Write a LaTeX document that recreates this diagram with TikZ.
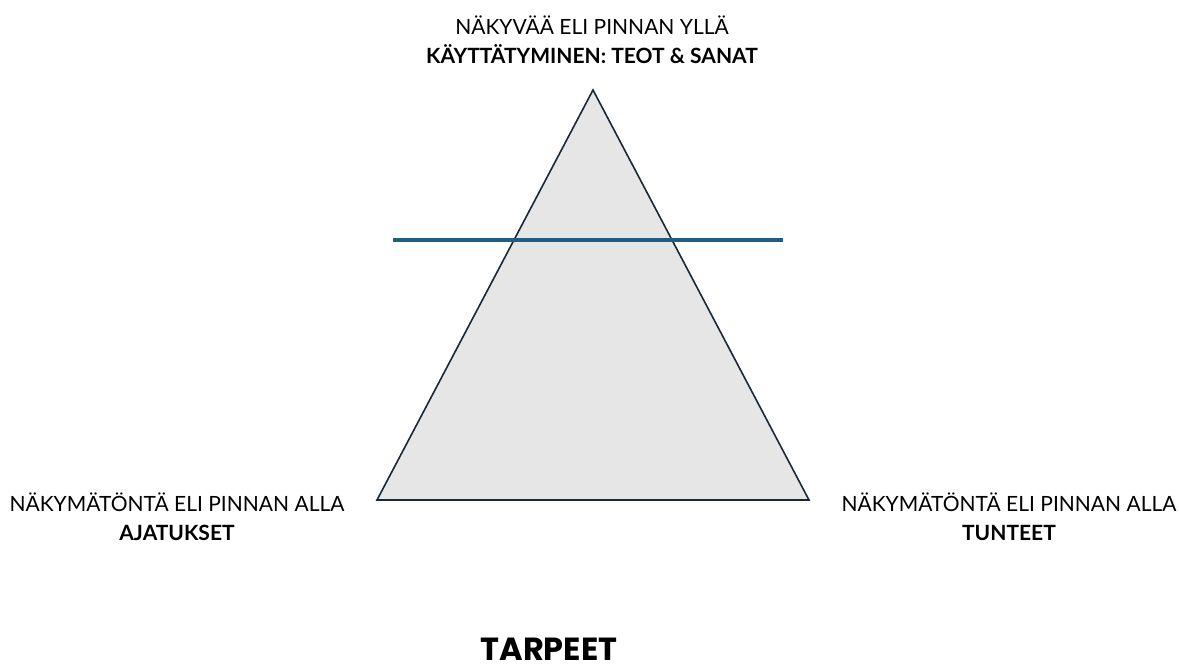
\documentclass[tikz,border=0pt]{standalone}
\usepackage{fontspec}
\setmainfont{Lato}
\newfontfamily\titlefont{Poppins}
\usepackage{tikz}
\usetikzlibrary{positioning}
\definecolor{tri}{RGB}{230,230,230}
\definecolor{triedge}{RGB}{26,40,56}
\definecolor{surface}{RGB}{31,94,128}

\begin{document}
\begin{tikzpicture}[
      x=1pt, y=-1pt,
      label/.style={font=\fontsize{21}{25}\selectfont, inner sep=0pt, align=center},
      labelbold/.style={label, font=\fontsize{21}{25}\selectfont\bfseries},
]
\useasboundingbox (0,0) rectangle (1179,666);

\coordinate (apex) at (593,90);
\coordinate (base_left) at (377,500);
\coordinate (base_right) at (809,500);

\draw[fill=tri, draw=triedge, line width=1.6pt, line join=miter] (apex) -- (base_right) -- (base_left) -- cycle;

\coordinate (surface_west) at (393,240);
\coordinate (surface_east) at (783,240);
\draw[surface, line width=3.8pt] (surface_west) -- (surface_east);

\node[label, anchor=base] (top_text) at (592,35) {NÄKYVÄÄ ELI PINNAN YLLÄ};
\node[labelbold, below=29pt of top_text.base, anchor=base] (top_bold) {KÄYTTÄTYMINEN: TEOT \& SANAT};

\node[label, anchor=base] (left_text) at (177,511) {NÄKYMÄTÖNTÄ ELI PINNAN ALLA};
\node[labelbold, below=29pt of left_text.base, anchor=base] (left_bold) {AJATUKSET};

\node[label, anchor=base] (right_text) at (1009,511) {NÄKYMÄTÖNTÄ ELI PINNAN ALLA};
\node[labelbold, below=29pt of right_text.base, anchor=base] (right_bold) {TUNTEET};

\node[font=\titlefont\fontsize{32}{36}\selectfont\bfseries, inner sep=0pt, text depth=0pt, anchor=base] (bottom_text) at (549,660) {TARPEET};

\end{tikzpicture}
\end{document}
